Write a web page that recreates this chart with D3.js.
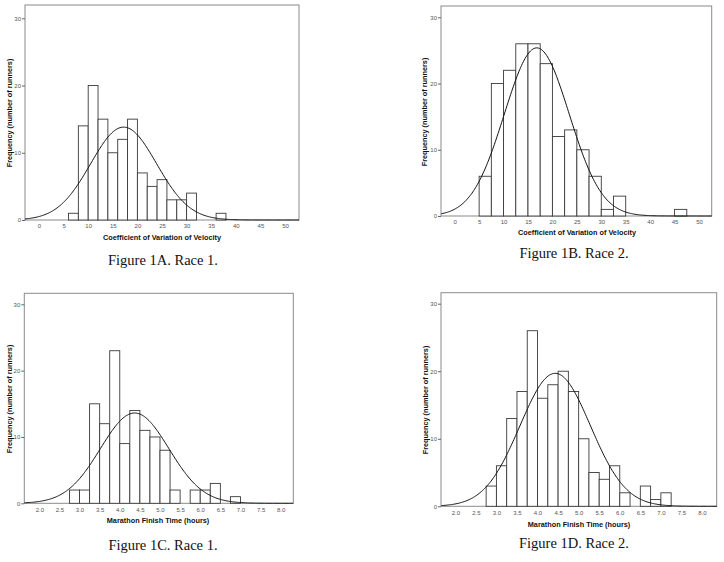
<!DOCTYPE html>
<html><head><meta charset="utf-8">
<script src="https://cdn.jsdelivr.net/npm/d3@7"></script>
<style>body{margin:0;background:#fff}svg{display:block}</style>
</head><body>
<script>
// Data: histogram bins (start values), counts, fitted normal parameters
const binStartA = [6,8,10,12,14,16,18,20,22,24,26,28,30,32,34,36];
const countA    = [1,14,20,15,10,12,15,7,5,6,3,3,4,0,0,1];
const binStartB = [5,7.5,10,12.5,15,17.5,20,22.5,25,27.5,30,32.5,35,37.5,40,42.5,45];
const countB    = [6,20,22,26,26,23,12,13,10,6,1,3,0,0,0,0,1];
const binStartC = [2.75,3,3.25,3.5,3.75,4,4.25,4.5,4.75,5,5.25,5.5,5.75,6,6.25,6.5,6.75];
const countC    = [2,2,15,12,23,9,14,11,10,8,2,0,2,2,3,0,1];
const binStartD = [2.75,3,3.25,3.5,3.75,4,4.25,4.5,4.75,5,5.25,5.5,5.75,6,6.25,6.5,6.75,7];
const countD    = [3,6,13,17,26,16,18,20,17,10,5,4,6,2,0,3,1,2];
const fitMean = [17.2, 16.8, 4.37, 4.43];
const fitSD   = [6.7, 6.64, 0.85, 0.856];
const xTicksCV = [0,5,10,15,20,25,30,35,40,45,50];
const xTicksTime = [2.0,2.5,3.0,3.5,4.0,4.5,5.0,5.5,6.0,6.5,7.0,7.5,8.0];
const yTicks = [0,10,20,30];
const captions = ["Figure 1A. Race 1.","Figure 1B. Race 2.","Figure 1C. Race 1.","Figure 1D. Race 2."];
const xLabels = ["Coefficient of Variation of Velocity","Coefficient of Variation of Velocity","Marathon Finish Time (hours)","Marathon Finish Time (hours)"];
const yLabel = "Frequency (number of runners)";

const W = 724, H = 562;
const svg = d3.select("body").append("svg").attr("width", W).attr("height", H);

const panels = [
  {starts:binStartA, counts:countA, bw:2,   ticks:xTicksCV,   tickFmt:d3.format("d"),
   fx:[25,299], fy:[5,220], xd:[0,50], xr:[39,285], yr:[220,18.3], dom:[-2.85,52.85],
   ylx:10, yly:113, xlx:162, xly:238.5, cx:163, cy:262},
  {starts:binStartB, counts:countB, bw:2.5, ticks:xTicksCV,   tickFmt:d3.format("d"),
   fx:[441,711.7], fy:[6,216], xd:[0,50], xr:[454.7,699], yr:[216,17.3], dom:[-2.75,52.6],
   ylx:425, yly:112, xlx:577, xly:233.5, cx:574, cy:255},
  {starts:binStartC, counts:countC, bw:0.25,ticks:xTicksTime, tickFmt:d3.format(".1f"),
   fx:[24.3,293.3], fy:[293.3,503.3], xd:[2,8], xr:[39.3,280.7], yr:[503.3,304.3], dom:[1.63,8.31],
   ylx:10, yly:399, xlx:158, xly:521, cx:163, cy:547},
  {starts:binStartD, counts:countD, bw:0.25,ticks:xTicksTime, tickFmt:d3.format(".1f"),
   fx:[441,716.7], fy:[292.7,506.3], xd:[2,8], xr:[455.3,702], yr:[506.3,303.7], dom:[1.66,8.36],
   ylx:426, yly:400, xlx:579, xly:525, cx:574, cy:545}
];

panels.forEach((p, i) => {
  const x = d3.scaleLinear().domain(p.xd).range(p.xr);
  const y = d3.scaleLinear().domain([0,30]).range(p.yr);
  const g = svg.append("g");

  // frame
  g.append("rect").attr("x", p.fx[0]).attr("y", p.fy[0])
    .attr("width", p.fx[1]-p.fx[0]).attr("height", p.fy[1]-p.fy[0])
    .attr("fill", "none").attr("stroke", "#8a8a8a").attr("stroke-width", 1);

  // bars
  const bins = p.starts.map((s, j) => ({x0:s, x1:s+p.bw, n:p.counts[j]})).filter(d => d.n > 0);
  g.selectAll("rect.bar").data(bins).join("rect").attr("class","bar")
    .attr("x", d => x(d.x0)).attr("width", d => x(d.x1)-x(d.x0))
    .attr("y", d => y(d.n)).attr("height", d => y(0)-y(d.n))
    .attr("fill", "#fff").attr("stroke", "#3a3a3a").attr("stroke-width", 0.9);

  // fitted normal curve
  const N = d3.sum(p.counts);
  const m = fitMean[i], s = fitSD[i];
  const pts = d3.range(0, 301).map(k => {
    const xv = p.dom[0] + (p.dom[1]-p.dom[0]) * k / 300;
    const yv = N * p.bw / (s*Math.sqrt(2*Math.PI)) * Math.exp(-0.5*((xv-m)/s)**2);
    return [xv, yv];
  });
  g.append("path").datum(pts)
    .attr("d", d3.line().x(d => x(d[0])).y(d => y(d[1])).curve(d3.curveLinear))
    .attr("fill", "none").attr("stroke", "#111").attr("stroke-width", 1);

  // y axis
  const ya = g.append("g").attr("transform", `translate(${p.fx[0]},0)`)
    .call(d3.axisLeft(y).tickValues(yTicks).tickSize(3).tickPadding(1).tickFormat(d3.format("d")));
  ya.select(".domain").remove();
  ya.selectAll("line").attr("stroke", "#666");
  ya.selectAll("text").attr("font-family", "Liberation Sans, Arial, sans-serif").attr("font-size", 6).attr("fill", "#555");

  // x axis
  const xa = g.append("g").attr("transform", `translate(0,${p.fy[1]})`)
    .call(d3.axisBottom(x).tickValues(p.ticks).tickSize(0).tickPadding(4).tickFormat(p.tickFmt));
  xa.select(".domain").remove();
  xa.selectAll("text").attr("font-family", "Liberation Sans, Arial, sans-serif").attr("font-size", 6).attr("fill", "#555");

  // axis titles
  g.append("text").attr("x", p.xlx).attr("y", p.xly)
    .attr("text-anchor", "middle").attr("dominant-baseline", "middle")
    .attr("font-family", "Liberation Sans, Arial, sans-serif").attr("font-weight", "bold")
    .attr("font-size", 7.3).attr("fill", "#111").text(xLabels[i]);
  g.append("text").attr("transform", `translate(${p.ylx},${p.yly}) rotate(-90)`)
    .attr("text-anchor", "middle").attr("dominant-baseline", "middle")
    .attr("font-family", "Liberation Sans, Arial, sans-serif").attr("font-weight", "bold")
    .attr("font-size", 7.3).attr("fill", "#111").text(yLabel);

  // caption
  g.append("text").attr("x", p.cx).attr("y", p.cy)
    .attr("text-anchor", "middle").attr("dominant-baseline", "middle")
    .attr("font-family", "Liberation Serif, Times New Roman, serif")
    .attr("font-size", 14.5).attr("fill", "#111").text(captions[i]);
});
</script>
</body></html>
